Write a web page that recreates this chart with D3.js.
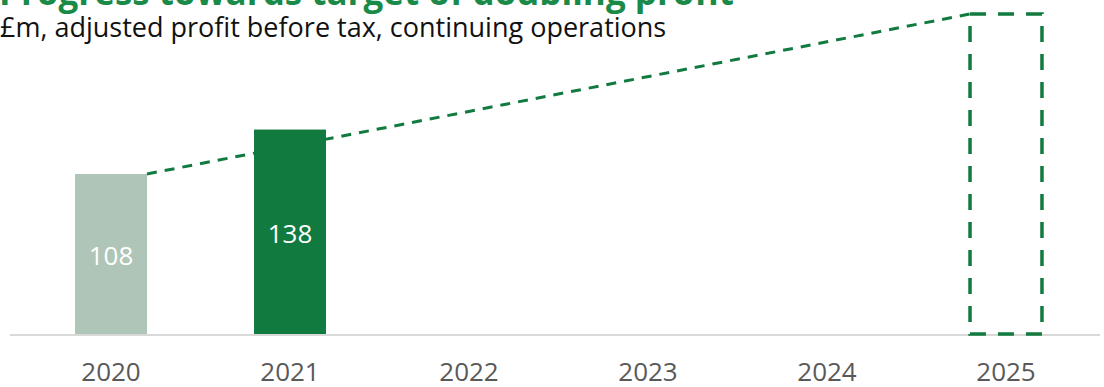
<!DOCTYPE html>
<html>
<head>
<meta charset="utf-8">
<script src="https://cdn.jsdelivr.net/npm/d3@7"></script>
<style>
  html, body { margin: 0; padding: 0; background: #fff; }
  svg { display: block; font-family: "Open Sans", sans-serif; }
</style>
</head>
<body>
<svg id="chart" width="1104" height="387"></svg>
<script>
// Adjusted profit before tax (£m), continuing operations
const years = ["2020", "2021", "2022", "2023", "2024", "2025"];
const actualYears = ["2020", "2021"];
const actualValues = [108, 138];
const targetYear = "2025";
const targetValue = 216; // double the 2020 baseline

const titleText = "Progress towards target of doubling profit";
const subtitleText = "£m, adjusted profit before tax, continuing operations";

const svg = d3.select("#chart");
const green = "#117a3f";
const paleGreen = "#afc5b8";

const x = d3.scaleBand()
  .domain(years)
  .range([21.5, 1095.5])
  .paddingInner(0.598)
  .paddingOuter(0.299);

const y = d3.scaleLinear()
  .domain([0, targetValue])
  .range([334, 14]);

// Title and subtitle
svg.append("text")
  .attr("x", -1).attr("y", 5)
  .attr("fill", "#1a8a48")
  .attr("font-size", 35)
  .attr("font-weight", 700)
  .text(titleText);

svg.append("text")
  .attr("x", 0).attr("y", 37)
  .attr("fill", "#111")
  .attr("font-size", 27)
  .text(subtitleText);

// Baseline
svg.append("line")
  .attr("x1", 10).attr("x2", 1100)
  .attr("y1", y(0) + 1).attr("y2", y(0) + 1)
  .attr("stroke", "#d9d9d9")
  .attr("stroke-width", 2);

// Trend line from the 2020 bar to the 2025 target
svg.append("line")
  .attr("x1", x("2020") + x.bandwidth()).attr("y1", y(actualValues[0]))
  .attr("x2", x(targetYear)).attr("y2", y(targetValue))
  .attr("stroke", green)
  .attr("stroke-width", 3)
  .attr("stroke-dasharray", "10 8");

// Target outline
svg.append("rect")
  .attr("x", x(targetYear))
  .attr("y", y(targetValue))
  .attr("width", x.bandwidth())
  .attr("height", y(0) - y(targetValue))
  .attr("fill", "none")
  .attr("stroke", green)
  .attr("stroke-width", 3.5)
  .attr("stroke-dasharray", "16 12");

// Actual bars
const data = actualYears.map((yr, i) => ({ year: yr, value: actualValues[i] }));
const barColors = [paleGreen, green];

svg.selectAll("rect.bar")
  .data(data)
  .join("rect")
  .attr("class", "bar")
  .attr("x", d => x(d.year))
  .attr("y", d => y(d.value))
  .attr("width", x.bandwidth())
  .attr("height", d => y(0) - y(d.value))
  .attr("fill", (d, i) => barColors[i]);

svg.selectAll("text.val")
  .data(data)
  .join("text")
  .attr("class", "val")
  .attr("x", d => x(d.year) + x.bandwidth() / 2)
  .attr("y", d => (y(d.value) + y(0)) / 2 + 1.5)
  .attr("dy", "0.36em")
  .attr("text-anchor", "middle")
  .attr("fill", "#fff")
  .attr("font-size", 26)
  .text(d => d.value);

// Year axis
const axis = svg.append("g")
  .attr("transform", `translate(0, ${y(0)})`)
  .call(d3.axisBottom(x).tickSize(0).tickPadding(0));
axis.select(".domain").remove();
axis.selectAll("text")
  .attr("y", 38)
  .attr("dy", "0.36em")
  .attr("fill", "#595959")
  .attr("font-size", 26)
  .attr("font-family", "Open Sans, sans-serif");
</script>
</body>
</html>
